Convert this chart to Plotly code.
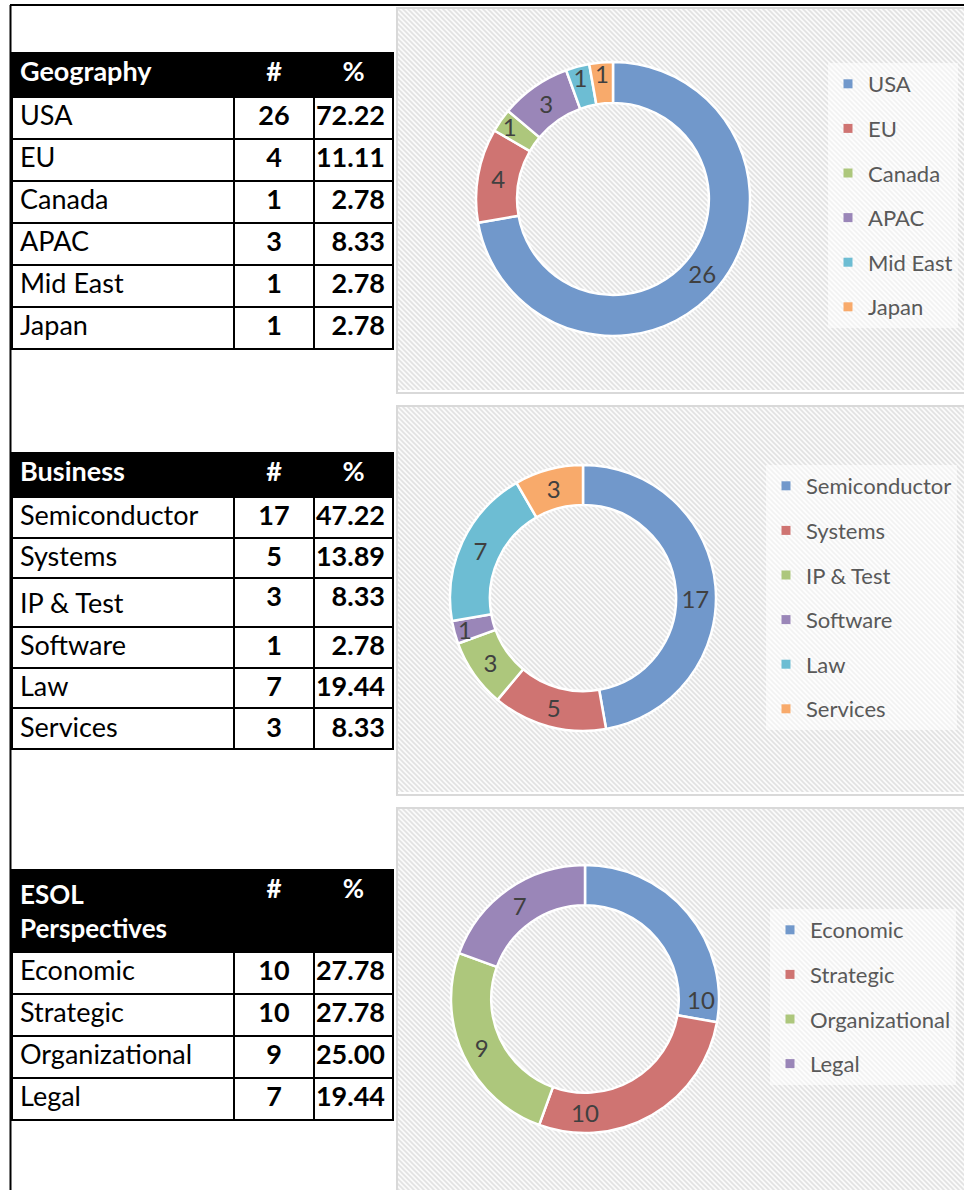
import base64
import plotly.graph_objects as go

W, H = 964, 1190
FONT = "Lato"

# ---------------- data ----------------
geo_labels = ["USA", "EU", "Canada", "APAC", "Mid East", "Japan"]
geo_counts = [26, 4, 1, 3, 1, 1]
geo_pct = [72.22, 11.11, 2.78, 8.33, 2.78, 2.78]

bus_labels = ["Semiconductor", "Systems", "IP & Test", "Software", "Law", "Services"]
bus_counts = [17, 5, 3, 1, 7, 3]
bus_pct = [47.22, 13.89, 8.33, 2.78, 19.44, 8.33]

esol_labels = ["Economic", "Strategic", "Organizational", "Legal"]
esol_counts = [10, 10, 9, 7]
esol_pct = [27.78, 27.78, 25.00, 19.44]

table_headers = [
    ["Geography", "#", "%"],
    ["Business", "#", "%"],
    ["ESOL<br>Perspectives", "#", "%"],
]

colors = ["#7198CB", "#CF7472", "#ADC77C", "#9A86B8", "#6DBDD3", "#F8AA6B"]


def px(x):
    return x / W


def py(y):
    return 1 - y / H


fig = go.Figure()

# ---------------- tables ----------------
# (labels, counts, pct, header, top px, header height, row height, header font size)
tables = [
    (geo_labels, geo_counts, geo_pct, table_headers[0], 53, 44, 42, 27),
    (bus_labels, bus_counts, bus_pct, table_headers[1], 453, 44, 40.6, 27),
    (esol_labels, esol_counts, esol_pct, table_headers[2], 870, 78, 42, 26),
]
for labels, counts, pct, hdr, top, hh, rh, hfs in tables:
    bottom = top + hh + 42 * len(labels) + 40
    fig.add_trace(go.Table(
        domain=dict(x=[px(12), px(393)], y=[py(bottom), py(top)]),
        columnwidth=[222, 80, 79],
        header=dict(
            values=hdr,
            fill_color="black",
            line=dict(color="black", width=2),
            font=dict(family=FONT, size=hfs, color="white", weight="bold"),
            align=["left", "center", "center"],
            height=hh,
        ),
        cells=dict(
            values=[labels, counts, [f"{v:.2f}" for v in pct]],
            fill_color="white",
            line=dict(color="black", width=2),
            font=dict(family=FONT, size=27, color="black",
                      weight=["normal", "bold", "bold"]),
            align=["left", "center", "right"],
            height=rh,
        ),
    ))

# ---------------- donuts ----------------
pies = [
    (geo_labels, geo_counts, (613, 199), 137, "legend"),
    (bus_labels, bus_counts, (583, 598), 133, "legend2"),
    (esol_labels, esol_counts, (585, 999), 134, "legend3"),
]
for labels, counts, (cx, cy), r, lg in pies:
    fig.add_trace(go.Pie(
        labels=labels,
        values=counts,
        hole=0.70,
        sort=False,
        direction="clockwise",
        rotation=0,
        domain=dict(x=[px(cx - r), px(cx + r)], y=[py(cy + r), py(cy - r)]),
        marker=dict(colors=colors[:len(labels)], line=dict(color="white", width=2.5)),
        textinfo="value",
        textposition="inside",
        insidetextorientation="horizontal",
        textfont=dict(family=FONT, size=24, color="#404040"),
        showlegend=False,
        hoverinfo="label+value",
    ))
    # legend entries built from the same labels
    for i, lab in enumerate(labels):
        fig.add_trace(go.Scatter(
            x=[None], y=[None], mode="markers", name=lab,
            marker=dict(symbol="square", size=9, color=colors[i]),
            legend=lg, legendgroup=f"{lg}_{i}", showlegend=True,
        ))

# ---------------- background panels ----------------
def stripe_svg(w, h):
    svg = (
        f'<svg xmlns="http://www.w3.org/2000/svg" width="{w}" height="{h}" '
        f'viewBox="0 0 {w} {h}" preserveAspectRatio="none">'
        '<defs><pattern id="p" width="5" height="5" patternUnits="userSpaceOnUse">'
        '<rect width="5" height="5" fill="#FBFBFB"/>'
        '<path d="M-1,-1 L6,6 M-1,4 L1,6 M4,-1 L6,1" stroke="#E2E2E2" stroke-width="1.6"/>'
        '</pattern></defs>'
        f'<rect width="{w}" height="{h}" fill="url(#p)"/></svg>'
    )
    return "data:image/svg+xml;base64," + base64.b64encode(svg.encode()).decode()


panels = [(397, 8, 964, 390), (397, 406, 964, 792), (397, 808, 964, 1190)]
images = []
shapes = []
for x0, y0, x1, y1 in panels:
    images.append(dict(
        source=stripe_svg(x1 - x0, y1 - y0), xref="paper", yref="paper",
        x=px(x0), y=py(y0), sizex=px(x1) - px(x0), sizey=py(y0) - py(y1),
        xanchor="left", yanchor="top", sizing="stretch", layer="below",
    ))
    shapes.append(dict(type="rect", xref="paper", yref="paper",
                       x0=px(x0), x1=px(x1 + 3), y0=py(y1 + 3), y1=py(y0),
                       line=dict(color="#D9D9D9", width=2), fillcolor="rgba(0,0,0,0)",
                       layer="below"))

# sheet border lines
shapes.append(dict(type="line", xref="paper", yref="paper", x0=px(10), x1=1,
                   y0=py(5), y1=py(5), line=dict(color="black", width=2)))
shapes.append(dict(type="line", xref="paper", yref="paper", x0=px(10.5), x1=px(10.5),
                   y0=py(5), y1=0, line=dict(color="black", width=2)))

legend_style = dict(
    font=dict(family=FONT, size=22, color="#595959"),
    bgcolor="rgba(255,255,255,0.55)",
    xanchor="left", yanchor="top", tracegroupgap=13, itemwidth=30,
)

fig.update_layout(
    width=W, height=H,
    margin=dict(l=0, r=0, t=0, b=0),
    paper_bgcolor="white",
    plot_bgcolor="rgba(0,0,0,0)",
    font=dict(family=FONT),
    xaxis=dict(visible=False),
    yaxis=dict(visible=False),
    images=images,
    shapes=shapes,
    uniformtext=dict(minsize=24, mode="show"),
    legend=dict(x=px(828), y=py(63), **legend_style),
    legend2=dict(x=px(766), y=py(465), **legend_style),
    legend3=dict(x=px(770), y=py(909), **legend_style),
)

fig.write_html(
    "out.html",
    config={"displayModeBar": False},
    post_script="document.body.style.margin='0';document.body.style.overflow='hidden';",
)
